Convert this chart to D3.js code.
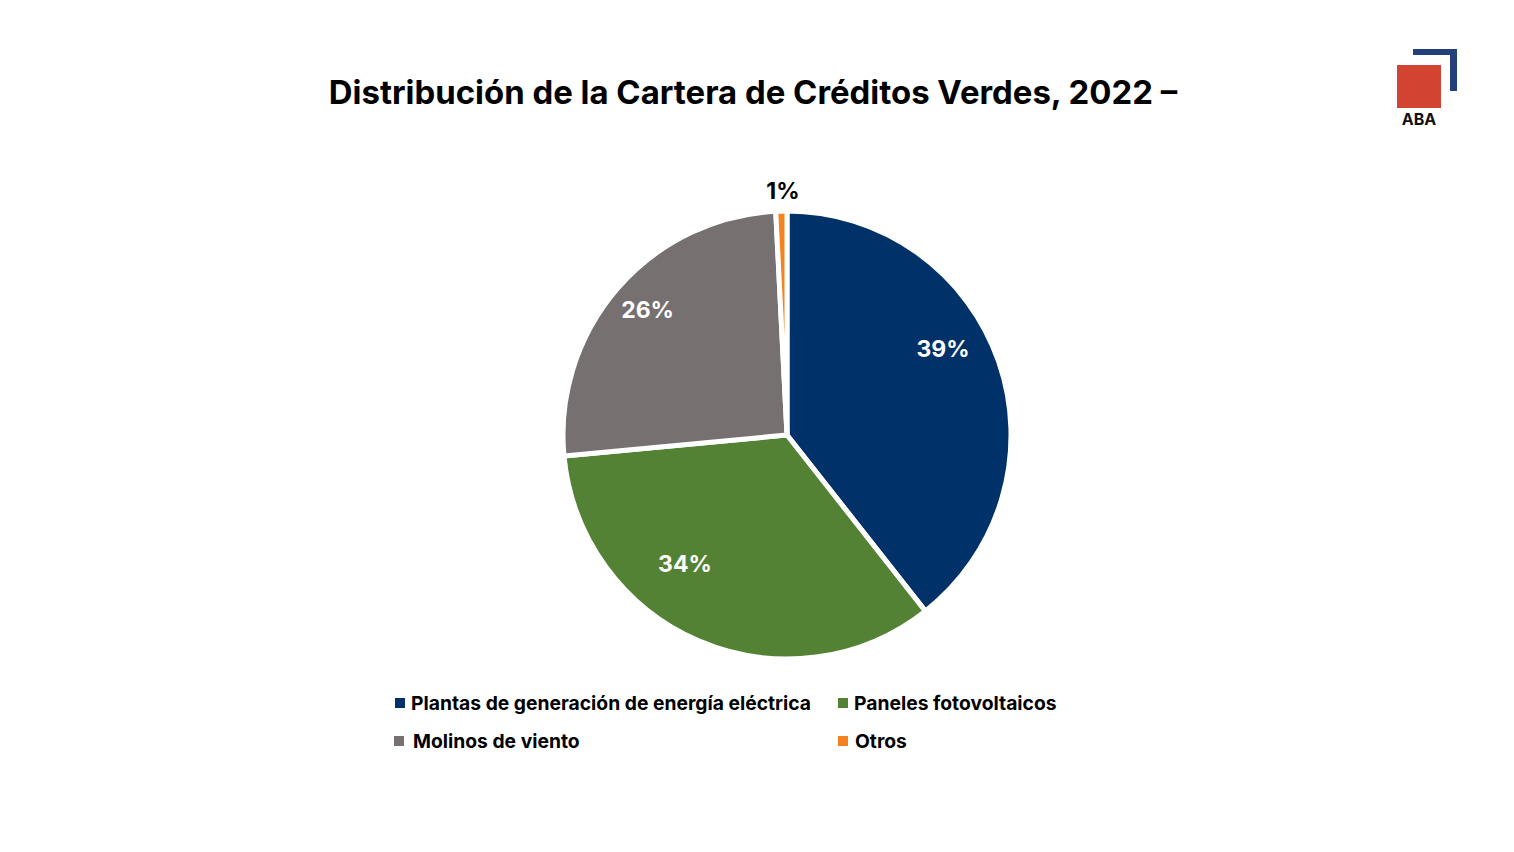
<!DOCTYPE html>
<html>
<head>
<meta charset="utf-8">
<script src="https://cdn.jsdelivr.net/npm/d3@7"></script>
<style>
  body { margin: 0; background: #fff; }
  text { font-family: "Inter", "Lato", sans-serif; }
</style>
</head>
<body>
<svg width="1514" height="852"></svg>
<script>
var svg = d3.select("svg"),
    width = +svg.attr("width"),
    height = +svg.attr("height");

// data
var categories = ["Plantas de generación de energía eléctrica", "Paneles fotovoltaicos", "Molinos de viento", "Otros"];
var shares = [39.4, 34.1, 25.7, 0.8];
var colors = ["#003169", "#548235", "#767070", "#f58220"];

var cx = 787, cy = 435, radius = 224;

svg.append("text")
    .attr("x", 753)
    .attr("y", 104)
    .attr("text-anchor", "middle")
    .attr("font-size", "32.9px")
    .attr("font-weight", 700)
    .attr("fill", "#000")
    .text("Distribución de la Cartera de Créditos Verdes, 2022 –");

// logo
var logo = svg.append("g").attr("class", "logo");
logo.append("rect").attr("x", 1413).attr("y", 49).attr("width", 44).attr("height", 6).attr("fill", "#23407a");
logo.append("rect").attr("x", 1450).attr("y", 49).attr("width", 7).attr("height", 42).attr("fill", "#23407a");
logo.append("rect").attr("x", 1397).attr("y", 65).attr("width", 44).attr("height", 43).attr("fill", "#d24431");
logo.append("text")
    .attr("x", 1419).attr("y", 125)
    .attr("text-anchor", "middle")
    .attr("font-family", "Liberation Sans, Arial, sans-serif")
    .attr("font-size", "16px")
    .attr("font-weight", 700)
    .attr("fill", "#111")
    .text("ABA");

var pie = d3.pie().sort(null).value(function(d){ return d; });
var arc = d3.arc().innerRadius(0).outerRadius(radius);
var labelArc = d3.arc().innerRadius(radius * 0.77).outerRadius(radius * 0.77);
var arcs = pie(shares);

var g = svg.append("g")
    .attr("class", "pie")
    .attr("transform", "translate(" + cx + "," + cy + ")");

g.selectAll("path")
  .data(arcs)
  .enter().append("path")
    .attr("d", arc)
    .attr("fill", function(d, i){ return colors[i]; })
    .attr("stroke", "#fff")
    .attr("stroke-width", 5)
    .attr("stroke-linejoin", "miter");

// Excel "best fit" label nudges
var nudge = [[-7, -30], [-34, -30], [-9, -12], [0, 0]];

g.selectAll("text.lbl")
  .data(arcs)
  .enter().append("text")
    .attr("class", "lbl")
    .attr("transform", function(d, i){
        if (i == 3) return "translate(" + (-4) + "," + (-radius - 20) + ")";
        var c = labelArc.centroid(d);
        return "translate(" + (c[0] + nudge[i][0]) + "," + (c[1] + nudge[i][1]) + ")";
    })
    .attr("dy", "0.35em")
    .attr("text-anchor", "middle")
    .attr("font-size", "23px")
    .attr("font-weight", 700)
    .attr("fill", function(d, i){ return i == 3 ? "#000" : "#fff"; })
    .text(function(d){ return Math.round(d.value) + "%"; });

// legend
var legendPos = [[395, 710], [838, 710], [394, 748], [838, 748]];

var lg = svg.append("g").attr("class", "legend");
lg.selectAll("rect")
  .data(categories)
  .enter().append("rect")
    .attr("x", function(d, i){ return legendPos[i][0]; })
    .attr("y", function(d, i){ return legendPos[i][1] - 12; })
    .attr("width", 10)
    .attr("height", 10)
    .attr("fill", function(d, i){ return colors[i]; });

lg.selectAll("text")
  .data(categories)
  .enter().append("text")
    .attr("x", function(d, i){ return legendPos[i][0] + (i == 2 ? 19 : (i == 3 ? 17 : 16)); })
    .attr("y", function(d, i){ return legendPos[i][1]; })
    .attr("font-size", "19.3px")
    .attr("font-weight", 700)
    .attr("fill", "#000")
    .text(function(d){ return d; });
</script>
</body>
</html>
